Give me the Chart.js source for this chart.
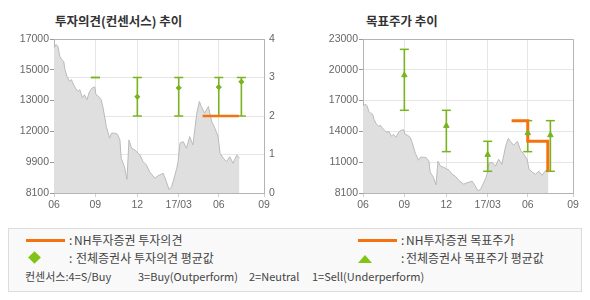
<!DOCTYPE html>
<html><head><meta charset="utf-8">
<script src="https://cdn.jsdelivr.net/npm/chart.js@4.4.0/dist/chart.umd.min.js"></script>
<style>
html,body{margin:0;padding:0;background:#fff;width:590px;height:300px;overflow:hidden;font-family:"Noto Sans CJK KR","Noto Sans",sans-serif;}
#c1{position:absolute;left:0;top:0;}
#c2{position:absolute;left:300px;top:0;}
.title{position:absolute;font-weight:bold;font-size:12.5px;color:#333;line-height:16px;white-space:pre;}
#legend{position:absolute;left:8px;top:228px;width:572px;height:62px;border:1px solid #dcdcdc;background:#f9f9f9;}
.lt{position:absolute;font-size:12px;color:#444;line-height:14px;white-space:pre;}
.ls{position:absolute;font-size:11px;color:#444;line-height:14px;white-space:pre;}
.oline{position:absolute;height:3px;background:#f5730e;}
.dia{position:absolute;width:9px;height:9px;background:#82c416;transform:rotate(45deg);}
.tri{position:absolute;width:0;height:0;border-left:7px solid transparent;border-right:7px solid transparent;border-bottom:8px solid #82c416;}
</style></head><body>
<div class="title" style="left:55px;top:13px">투자의견(컨센서스) 추이</div>
<div class="title" style="left:366px;top:13px">목표주가 추이</div>
<canvas id="c1" width="300" height="215"></canvas>
<canvas id="c2" width="290" height="215"></canvas>
<div id="legend"></div>
<div class="oline" style="left:26px;top:239px;width:39px"></div>
<div class="lt" style="left:69px;top:233px">:</div>
<div class="lt" style="left:74px;top:233px">NH투자증권 투자의견</div>
<div class="dia" style="left:30px;top:253px"></div>
<div class="lt" style="left:69px;top:251px">:</div>
<div class="lt" style="left:76px;top:251px">전체증권사 투자의견 평균값</div>
<div class="oline" style="left:358px;top:239px;width:39px"></div>
<div class="lt" style="left:401px;top:233px">:</div>
<div class="lt" style="left:406px;top:233px">NH투자증권 목표주가</div>
<div class="tri" style="left:358px;top:255px"></div>
<div class="lt" style="left:401px;top:251px">:</div>
<div class="lt" style="left:406px;top:251px">전체증권사 목표주가 평균값</div>
<div class="ls" style="left:25px;top:269px">컨센서스:4=S/Buy</div>
<div class="ls" style="left:138px;top:269px">3=Buy(Outperform)</div>
<div class="ls" style="left:249px;top:269px">2=Neutral</div>
<div class="ls" style="left:312px;top:269px">1=Sell(Underperform)</div>
<script>
// ---- data ----
const dayTicks = [0, 64, 129, 193, 255, 325];
const dayLabels = ['06', '09', '12', '17/03', '06', '09'];

const priceDays = [0,3,6,9,12,15,17,20,24,27,29,33,37,40,44,47,51,55,59,63,65,69,73,76,81,86,89,94,98,102,104,109,113,116,120,125,133,138,143,148,156,161,169,173,178,182,185,190,192,195,200,205,210,215,221,225,228,233,239,244,249,254,257,262,267,272,277,283,287];
const priceValues = [16490,16680,16580,16000,15810,15710,15230,14850,14560,14650,14460,14170,13970,14070,13590,13780,13490,13970,14170,14230,13780,13680,13490,13010,11940,11270,11560,11560,11500,11170,10110,9620,8890,11170,10690,10590,10300,9910,9720,9330,8950,9090,9240,8850,8310,8460,8850,9530,9910,10980,11070,10690,11360,10880,12720,13390,13100,12720,13100,12230,11840,11360,10400,10110,9910,10200,9820,10300,10110];

const consDays = [64, 129, 193, 255, 290];
const opinionHigh = [3, 3, 3, 3, 3];
const opinionLow = [3, 2, 2, 2, 2];
const opinionMean = [3, 2.5, 2.73, 2.75, 2.89];
const nhOpinionDays = [230, 286];
const nhOpinion = [2, 2];

const targetHigh = [22000, 16100, 13100, 15100, 15100];
const targetLow = [16100, 12100, 10200, 12100, 10200];
const targetMean = [19500, 14600, 11800, 13900, 13700];
const nhTargetDays = [230, 255, 255, 286, 286];
const nhTarget = [15100, 15100, 13100, 13100, 10200];

const leftPriceTicks = ['8100', '9900', '12000', '13000', '15000', '17000'];
const leftPriceRange = [8100, 17000];
const opinionTicks = ['0', '1', '2', '3', '4'];
const rightPriceTicks = ['8100', '11000', '14000', '17000', '20000', '23000'];
const rightPriceRange = [8100, 23000];

// ---- styling ----
Chart.defaults.font.family = '"Liberation Sans", Arial, sans-serif';
Chart.defaults.font.size = 10.5;
Chart.defaults.color = '#666';
const GREEN = '#78b41e', ORANGE = '#f5730e', AXIS = '#b4b4b4', GRID = '#e6e6e6';

const frame = { id: 'frame', afterDatasetsDraw(chart) {
  const a = chart.chartArea, ctx = chart.ctx;
  ctx.save(); ctx.strokeStyle = AXIS; ctx.lineWidth = 1;
  ctx.beginPath();
  ctx.moveTo(a.left, a.top + 0.5); ctx.lineTo(a.right + 0.5, a.top + 0.5); ctx.lineTo(a.right + 0.5, a.bottom);
  ctx.stroke(); ctx.restore();
}};

const xy = (xs, ys) => xs.map((x, i) => ({ x: x, y: ys[i] }));
function rangeData(hi, lo) {
  const out = [];
  consDays.forEach((d, i) => { out.push({ x: d, y: hi[i] }, { x: d, y: lo[i] }, { x: d, y: null }); });
  return out;
}
function xScale() {
  return {
    type: 'linear', min: dayTicks[0], max: dayTicks[dayTicks.length - 1],
    afterBuildTicks: s => { s.ticks = dayTicks.map(v => ({ value: v })); },
    afterFit: s => { s.height = 22; },
    ticks: { autoSkip: false, maxRotation: 0, padding: 2, callback: (v, i) => dayLabels[i] },
    grid: { color: GRID, tickColor: '#cfcfcf', tickLength: 4 },
    border: { color: AXIS }
  };
}
function priceScale(range, labels, width, showGrid) {
  return {
    type: 'linear', position: 'left', min: range[0], max: range[1],
    afterBuildTicks: s => { s.ticks = labels.map((_, i) => ({ value: range[0] + i * (range[1] - range[0]) / (labels.length - 1) })); },
    afterFit: s => { s.width = width; },
    ticks: { autoSkip: false, padding: 1, callback: (v, i) => labels[i] },
    grid: { drawOnChartArea: showGrid, color: GRID, tickColor: '#9a9a9a', tickLength: 4 },
    border: { color: AXIS }
  };
}
function priceDataset(axis) {
  return { data: xy(priceDays, priceValues), yAxisID: axis, showLine: true, fill: 'start',
    backgroundColor: '#dfdfdf', borderColor: '#bababa', borderWidth: 1, pointRadius: 0, tension: 0, order: 3 };
}
function barDataset(hi, lo, axis) {
  return { data: rangeData(hi, lo), yAxisID: axis, showLine: true, spanGaps: false,
    borderColor: GREEN, borderWidth: 1.6, pointStyle: 'line', pointRadius: 4.5,
    pointBorderColor: GREEN, pointBorderWidth: 1.5, order: 2 };
}
function meanDataset(vals, hi, lo, axis, style, r) {
  return { data: xy(consDays, vals), yAxisID: axis, showLine: false, pointStyle: style,
    pointRadius: c => (hi[c.dataIndex] === lo[c.dataIndex] ? 0 : r),
    pointBackgroundColor: GREEN, pointBorderColor: GREEN, pointBorderWidth: 1, order: 0 };
}
function nhDataset(xs, ys, axis, w) {
  return { data: xy(xs, ys), yAxisID: axis, showLine: true, borderColor: ORANGE, borderWidth: w,
    pointRadius: 0, tension: 0, order: 1, borderCapStyle: 'butt' };
}
const common = { responsive: false, animation: false, devicePixelRatio: 1, events: [],
  plugins: { legend: { display: false }, tooltip: { enabled: false } } };

new Chart(document.getElementById('c1'), {
  type: 'scatter',
  data: { datasets: [
    meanDataset(opinionMean, opinionHigh, opinionLow, 'yOp', 'rectRot', 2.6),
    nhDataset(nhOpinionDays, nhOpinion, 'yOp', 2.5),
    barDataset(opinionHigh, opinionLow, 'yOp'),
    priceDataset('yPrice')
  ]},
  options: Object.assign({}, common, {
    layout: { padding: { top: 39, left: 0, right: 0, bottom: 0 } },
    scales: {
      x: xScale(),
      yPrice: priceScale(leftPriceRange, leftPriceTicks, 54, false),
      yOp: {
        type: 'linear', position: 'right', min: 0, max: 4,
        afterBuildTicks: s => { s.ticks = opinionTicks.map((_, i) => ({ value: i })); },
        afterFit: s => { s.width = 36; },
        ticks: { padding: 5, callback: (v, i) => opinionTicks[i] },
        grid: { color: GRID, drawTicks: false },
        border: { color: AXIS }
      }
    }
  }),
  plugins: [frame]
});

new Chart(document.getElementById('c2'), {
  type: 'scatter',
  data: { datasets: [
    meanDataset(targetMean, targetHigh, targetLow, 'yPrice', 'triangle', 3.2),
    nhDataset(nhTargetDays, nhTarget, 'yPrice', 3),
    barDataset(targetHigh, targetLow, 'yPrice'),
    priceDataset('yPrice')
  ]},
  options: Object.assign({}, common, {
    layout: { padding: { top: 39, left: 0, right: 17, bottom: 0 } },
    scales: {
      x: xScale(),
      yPrice: priceScale(rightPriceRange, rightPriceTicks, 63, true)
    }
  }),
  plugins: [frame]
});
</script>
</body></html>
